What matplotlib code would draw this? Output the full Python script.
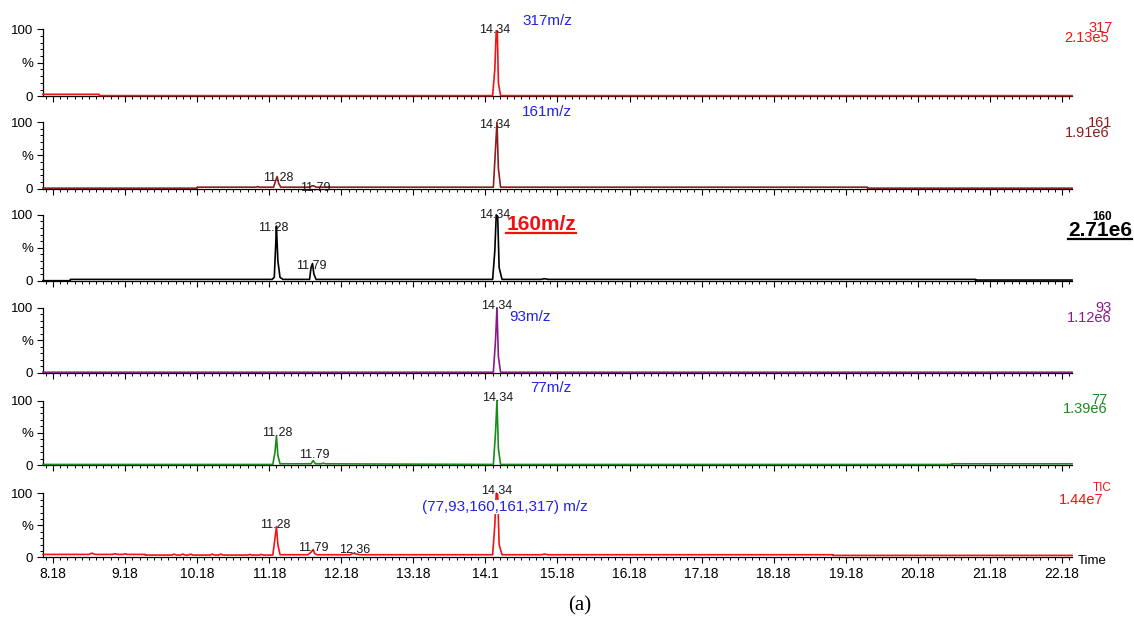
import matplotlib
matplotlib.use("Agg")
import matplotlib.pyplot as plt
from matplotlib.lines import Line2D

plt.rcParams['font.family'] = ['Liberation Sans', 'DejaVu Sans']

# retention time (min) / relative intensity (%) vertices
t_317 = [8.04, 8.82, 8.82, 14.28, 14.31, 14.33, 14.345, 14.36, 14.39, 22.32]
i_317 = [3, 3, 1, 1, 40, 98, 97, 20, 1, 1]

t_161 = [8.04, 10.18, 10.18, 11.0, 11.02, 11.04, 11.24, 11.27, 11.29, 11.31, 11.34,
         11.74, 11.78, 11.80, 11.83, 14.29, 14.32, 14.34, 14.36, 14.39, 19.48, 19.48, 22.32]
i_161 = [0.5, 0.5, 2, 2, 3, 2, 2, 12, 18, 8, 2,
         2, 4, 4, 2, 2, 60, 100, 30, 2, 2, 0.5, 0.5]

t_160 = [8.04, 8.42, 8.42, 11.22, 11.25, 11.27, 11.28, 11.30, 11.33, 11.37, 11.74, 11.76,
         11.78, 11.80, 11.83, 14.28, 14.31, 14.33, 14.35, 14.37, 14.41, 14.95, 15.0, 15.05,
         20.98, 20.98, 22.32]
i_160 = [0, 0, 2, 2, 5, 55, 83, 30, 5, 2, 2, 20,
         26, 10, 2, 2, 45, 100, 98, 20, 2, 2, 3, 2,
         2, 1, 1]

t_93 = [8.04, 14.29, 14.32, 14.34, 14.36, 14.39, 22.32]
i_93 = [1, 1, 50, 100, 25, 1, 1]

t_77 = [8.04, 11.23, 11.26, 11.28, 11.30, 11.33, 11.76, 11.79, 11.82, 11.90, 11.93, 11.96,
        14.29, 14.32, 14.34, 14.36, 14.39, 20.65, 20.65, 22.32]
i_77 = [1, 1, 20, 45, 15, 2, 2, 7, 2, 2, 3, 2,
        1, 50, 100, 25, 1, 1, 2, 2]

t_tic = [8.04, 8.68, 8.72, 8.76, 9.00, 9.04, 9.08, 9.15, 9.18, 9.21, 9.46, 9.46,
         9.83, 9.86, 9.89, 9.95, 9.98, 10.01, 10.06, 10.09, 10.12, 10.36, 10.39, 10.42,
         10.48, 10.51, 10.54, 10.88, 10.91, 10.94, 11.04, 11.07, 11.10, 11.23, 11.26, 11.28,
         11.30, 11.33, 11.72, 11.76, 11.79, 11.81, 11.84, 12.30, 12.34, 12.36, 12.39, 12.44,
         14.28, 14.31, 14.33, 14.35, 14.37, 14.41, 14.95, 15.0, 15.05, 19.0, 19.0, 22.32]
i_tic = [4.5, 4.5, 6.5, 4.5, 4.5, 5.5, 4.5, 4.5, 5.5, 4.5, 4.5, 3.5,
         3.5, 5, 3.5, 3.5, 5, 3.5, 3.5, 5, 3.5, 3.5, 5, 3.5,
         3.5, 5, 3.5, 3.5, 4.5, 3.5, 3.5, 4.5, 3.5, 3.5, 30, 48,
         20, 4, 4, 8, 12, 6, 4, 4, 6, 6, 5, 4,
         4, 50, 100, 98, 20, 4, 4, 5, 4, 4, 3, 3]

# peak labels: (time, text, label height %)
peaks_317 = [(14.31, "14.34", 99)]
peaks_161 = [(14.31, "14.34", 96), (11.30, "11.28", 16), (11.82, "11.79", 1)]
peaks_160 = [(14.31, "14.34", 100), (11.23, "11.28", 80), (11.76, "11.79", 22)]
peaks_93 = [(14.34, "14.34", 102)]
peaks_77 = [(14.35, "14.34", 104.5), (11.29, "11.28", 50), (11.81, "11.79", 15.6)]
peaks_tic = [(14.34, "14.34", 103.6), (11.27, "11.28", 51), (11.79, "11.79", 14.5), (12.36, "12.36", 12)]

mz_labels = ["317m/z", "161m/z", "160m/z", "93m/z", "77m/z", "(77,93,160,161,317) m/z"]
channel_names = ["317", "161", "160", "93", "77", "TIC"]
max_intensity = ["2.13e5", "1.91e6", "2.71e6", "1.12e6", "1.39e6", "1.44e7"]

x_major = [8.18, 9.18, 10.18, 11.18, 12.18, 13.18, 14.18, 15.18, 16.18, 17.18,
           18.18, 19.18, 20.18, 21.18, 22.18]
x_labels = ["8.18", "9.18", "10.18", "11.18", "12.18", "13.18", "14.1", "15.18", "16.18",
            "17.18", "18.18", "19.18", "20.18", "21.18", "22.18"]

traces = [(t_317, i_317, peaks_317), (t_161, i_161, peaks_161), (t_160, i_160, peaks_160),
          (t_93, i_93, peaks_93), (t_77, i_77, peaks_77), (t_tic, i_tic, peaks_tic)]

colors = ["#f01414", "#8b1e1e", "#000000", "#8a1a8a", "#1a8c1a", "#f01414"]
blue = "#2323e6"

# label layout (pixels / data positions)
mz_pos = [(14.69, 113), (14.69, 115), (14.47, 85), (14.51, 86), (14.80, 118.6), (13.30, 78.6)]
name_pos = [(1113, 27.5), (1112, 123), (1112, 217), (1112, 308), (1108, 399.5), (1112, 488)]
val_pos = [(1109, 37.5), (1109, 133), (1132, 230.5), (1112, 317.5), (1108, 409), (1103, 500)]

W, H = 1134, 619
fig = plt.figure(figsize=(W / 100, H / 100), dpi=100)


def fx(px):
    return px / W


def fy(py):
    return 1 - py / H


underlined = []
minor_x = [round(8.08 + 0.1 * k, 2) for k in range(143)]

for i, (t, inten, peaks) in enumerate(traces):
    top = 29.3 + 92.8 * i
    bot = 96.3 + 92.2 * i
    ax = fig.add_axes([fx(43), fy(bot), fx(1072) - fx(43), (bot - top) / H])
    ax.plot(t, inten, color=colors[i], lw=1.2, clip_on=False, zorder=3)
    ax.set_xlim(8.041, 22.319)
    ax.set_ylim(0, 100)
    for s in ["top", "right"]:
        ax.spines[s].set_visible(False)
    for s in ["left", "bottom"]:
        ax.spines[s].set_linewidth(0.9)
    ax.set_xticks(x_major)
    ax.set_xticks(minor_x, minor=True)
    ax.set_yticks([0, 50, 100])
    ax.set_yticklabels(["0", "%", "100"], fontsize=9.5)
    ax.set_yticks(range(0, 101, 10), minor=True)
    ax.tick_params(which="major", direction="out", length=4, width=0.8, pad=3)
    ax.tick_params(which="minor", direction="out", length=2.5, width=0.7)
    if i < 5:
        ax.tick_params(axis="x", labelbottom=False)
    else:
        ax.set_xticklabels(x_labels, fontsize=10)

    for pt, ps, py in peaks:
        ax.text(pt, py, ps, ha="center", va="center", fontsize=9, color="#1a1a1a",
                clip_on=False, zorder=4)

    mx, my = mz_pos[i]
    if i == 2:
        txt = ax.text(mx, my, mz_labels[i], ha="left", va="center", fontsize=15,
                      fontweight="bold", color="#ee1111", clip_on=False)
        underlined.append((txt, 1.6))
    elif i == 5:
        ax.text(mx, my, mz_labels[i], ha="left", va="center", fontsize=11, color=blue,
                clip_on=False, zorder=5,
                bbox=dict(fc="white", ec="none", pad=0.3))
    else:
        ax.text(mx, my, mz_labels[i], ha="left", va="center", fontsize=11, color=blue,
                clip_on=False)

    nx, ny = name_pos[i]
    vx, vy = val_pos[i]
    if i == 2:
        fig.text(fx(nx), fy(ny), channel_names[i], ha="right", va="center", fontsize=8.5,
                 fontweight="bold", color="black")
        txt = fig.text(fx(vx), fy(vy), max_intensity[i], ha="right", va="center",
                       fontsize=15, fontweight="bold", color="black")
        underlined.append((txt, 1.6))
    else:
        fig.text(fx(nx), fy(ny), channel_names[i], ha="right", va="center",
                 fontsize=8.5 if i == 5 else 10.5, color=colors[i])
        fig.text(fx(vx), fy(vy), max_intensity[i], ha="right", va="center", fontsize=10.5,
                 color=colors[i])

fig.text(fx(1078), fy(561), "Time", ha="left", va="center", fontsize=9.5)
fig.text(fx(580), fy(606), "(a)", ha="center", va="center", fontsize=15,
         family=["Liberation Serif", "DejaVu Serif"])

# underline the highlighted labels
fig.canvas.draw()
for txt, lw in underlined:
    bb = txt.get_window_extent()
    yl = bb.y0 + 1
    fig.add_artist(Line2D([bb.x0 / W, bb.x1 / W], [yl / H, yl / H], color=txt.get_color(),
                          lw=lw, transform=fig.transFigure))

fig.savefig("out.png", dpi=100)
